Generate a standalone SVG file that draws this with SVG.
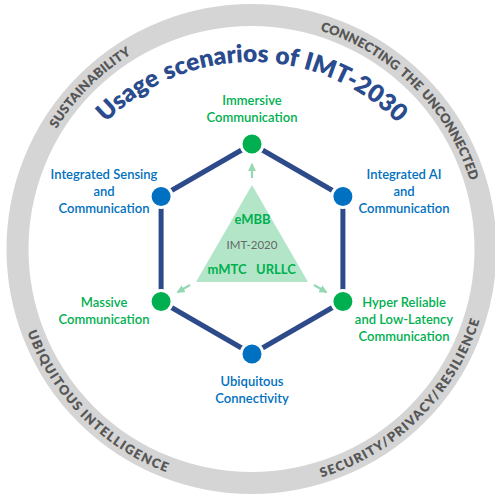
<svg xmlns="http://www.w3.org/2000/svg" width="495" height="500" viewBox="0 0 495 500">
<style>
text{font-family:Lato,"Noto Sans","Liberation Sans",sans-serif}
.ring{fill:none;stroke:#d5d5d5;stroke-width:22}
.rt{font-size:13px;font-weight:800;fill:#575757}
.title{font-size:24.5px;font-weight:800;fill:#2a4b8d}
.lbl{font-size:13px;font-weight:600;text-anchor:middle}
.g{fill:#00b050}
.b{fill:#0070c0}
.edge{stroke:#2d4a8a;stroke-width:5;fill:none}
.ng{fill:#00b050;stroke:#fff;stroke-width:3}
.nb{fill:#0070c0;stroke:#fff;stroke-width:3}
.arr{stroke:#94d9b3;stroke-width:2.2;fill:none;marker-end:url(#ah)}
.tri{fill:#b3e6c9}
.tt{font-size:13px;font-weight:700;fill:#00b050;text-anchor:middle}
</style>
<defs>
<marker id="ah" markerUnits="userSpaceOnUse" markerWidth="10" markerHeight="10" refX="7" refY="4" orient="auto">
<path d="M0,0 L8,4 L0,8 Z" fill="#94d9b3"/>
</marker>
<path id="pSus" d="M32.5,182 A229,229 0 0 1 184.5,30"/>
<path id="pCon" d="M310.8,27.8 A229,229 0 0 1 472.7,189.7"/>
<path id="pUbi" d="M16.1,290.5 A239,239 0 0 0 210,484.4"/>
<path id="pSec" d="M293,484.4 A239,239 0 0 0 486.9,290.5"/>
<path id="pTitle" d="M74,164.5 A205,205 0 0 1 429,164.5"/>
</defs>
<rect width="495" height="500" fill="#fff"/>
<g id="ring">
<circle class="ring" cx="251.5" cy="249" r="234"/>
<text class="rt" letter-spacing="0.2"><textPath href="#pSus" startOffset="50%" text-anchor="middle">SUSTAINABILITY</textPath></text>
<text class="rt"><textPath href="#pCon" startOffset="52.8" text-anchor="middle">CONNECTING</textPath></text>
<text class="rt"><textPath href="#pCon" startOffset="113" text-anchor="middle">THE</textPath></text>
<text class="rt"><textPath href="#pCon" startOffset="180.2" text-anchor="middle">UNCONNECTED</textPath></text>
<text class="rt" letter-spacing="1.3"><textPath href="#pUbi" startOffset="90.9" text-anchor="middle">UBIQUITOUS</textPath></text>
<text class="rt" letter-spacing="1.3"><textPath href="#pUbi" startOffset="194.8" text-anchor="middle">INTELLIGENCE</textPath></text>
<text class="rt" letter-spacing="1.2"><textPath href="#pSec" startOffset="68.3" text-anchor="middle">SECURITY/</textPath></text>
<text class="rt" letter-spacing="1.2"><textPath href="#pSec" startOffset="142.9" text-anchor="middle">PRIVACY/</textPath></text>
<text class="rt" letter-spacing="1.2"><textPath href="#pSec" startOffset="220.6" text-anchor="middle">RESILIENCE</textPath></text>
</g>
<g id="title">
<text class="title"><textPath href="#pTitle" startOffset="86.7" text-anchor="middle">Usage</textPath></text>
<text class="title"><textPath href="#pTitle" startOffset="179.4" text-anchor="middle">scenarios</textPath></text>
<text class="title"><textPath href="#pTitle" startOffset="249" text-anchor="middle">of</textPath></text>
<text class="title"><textPath href="#pTitle" startOffset="321.8" text-anchor="middle">IMT-2030</textPath></text>
</g>
<g id="connectors">
<path class="edge" d="M252,144 L342.9,196.5 L342.9,301.5 L252,354 L161.1,301.5 L161.1,196.5 Z"/>
<line class="arr" x1="252" y1="178" x2="252" y2="164"/>
<line class="arr" x1="190" y1="285" x2="177.5" y2="292.2"/>
<line class="arr" x1="314" y1="285" x2="326.5" y2="292.2"/>
</g>
<g id="imt2020">
<polygon class="tri" points="252,185 196,282 308,282"/>
<text class="tt" x="252.5" y="224">eMBB</text>
<text x="252" y="249" font-size="11.5" fill="#666" text-anchor="middle">IMT-2020</text>
<text class="tt" x="227" y="274">mMTC</text>
<text class="tt" x="276" y="274">URLLC</text>
</g>
<g id="immersive">
<circle class="ng" cx="252" cy="144" r="11"/>
<text class="lbl g" x="252" y="105">Immersive</text>
<text class="lbl g" x="252" y="122">Communication</text>
</g>
<g id="ai">
<circle class="nb" cx="342.9" cy="196.5" r="11"/>
<text class="lbl b" x="404" y="179">Integrated AI</text>
<text class="lbl b" x="404" y="196">and</text>
<text class="lbl b" x="404" y="213">Communication</text>
</g>
<g id="hrllc">
<circle class="ng" cx="342.9" cy="301.5" r="11"/>
<text class="lbl g" x="404" y="307">Hyper Reliable</text>
<text class="lbl g" x="404" y="324">and Low-Latency</text>
<text class="lbl g" x="404" y="341">Communication</text>
</g>
<g id="ubiquitous">
<circle class="nb" cx="252" cy="354" r="11"/>
<text class="lbl b" x="252" y="386">Ubiquitous</text>
<text class="lbl b" x="252" y="403">Connectivity</text>
</g>
<g id="massive">
<circle class="ng" cx="161.1" cy="301.5" r="11"/>
<text class="lbl g" x="104" y="307">Massive</text>
<text class="lbl g" x="104" y="324">Communication</text>
</g>
<g id="isac">
<circle class="nb" cx="161.1" cy="196.5" r="11"/>
<text class="lbl b" x="104" y="179">Integrated Sensing</text>
<text class="lbl b" x="104" y="196">and</text>
<text class="lbl b" x="104" y="213">Communication</text>
</g>
</svg>
